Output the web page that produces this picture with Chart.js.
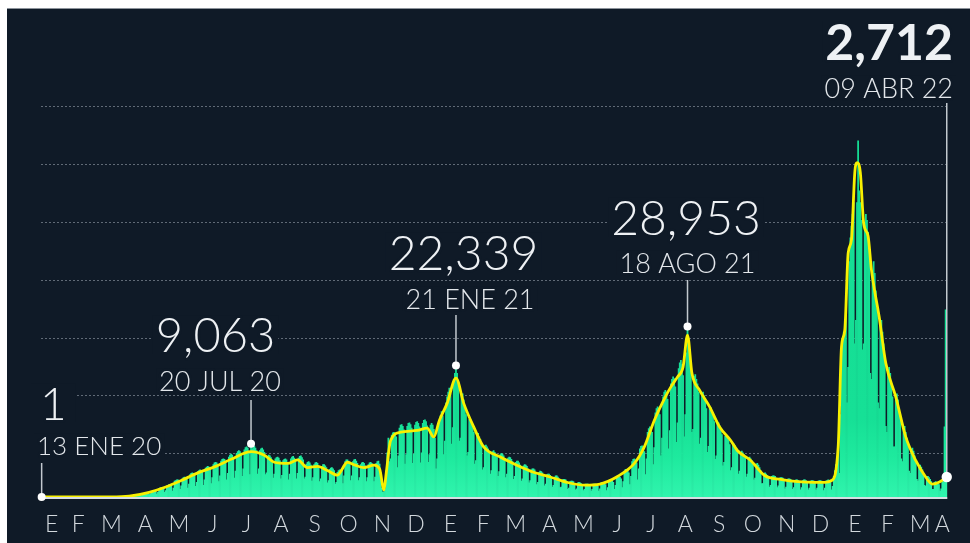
<!DOCTYPE html>
<html>
<head>
<meta charset="utf-8">
<script src="https://cdn.jsdelivr.net/npm/chart.js@4.4.1/dist/chart.umd.min.js"></script>
<style>
  html, body { margin: 0; padding: 0; background: #ffffff; }
  #wrap { position: relative; width: 970px; height: 543px; overflow: hidden; }
  #panel { position: absolute; left: 7px; top: 8px; width: 963px; height: 535px; background: #0f1a27; border-top: 1px solid #8c939b; box-sizing: border-box; }
  #box { position: absolute; left: 0; top: 0; width: 970px; height: 543px; }
</style>
</head>
<body>
<div id="wrap">
  <div id="panel"></div>
  <div id="box"><canvas id="c"></canvas></div>
</div>
<script>
// ---------------- DATA (values in thousands of cases) ----------------
const firstDay = '2020-01-13';
const lastDay = '2022-04-09';

// Daily new cases, one value per day from 13 Jan 2020 to 09 Apr 2022 (Mon..Sun per line)
const dailyCases = [
0.001,0,0,0,0,0,0,
0,0,0,0,0,0,0,
0,0,0,0,0,0,0,
0,0,0,0,0,0,0,
0,0,0,0,0,0,0,
0,0,0,0,0,0,0,
0,0,0,0,0.001,0.001,0,
0.001,0.002,0.001,0.002,0.003,0.004,0.002,
0.005,0.007,0.01,0.012,0.02,0.025,0.02,
0.03,0.04,0.05,0.06,0.07,0.08,0.05,
0.06,0.09,0.1,0.12,0.13,0.14,0.08,
0.1,0.16,0.17,0.18,0.2,0.2,0.12,
0.2,0.35,0.4,0.42,0.45,0.42,0.25,
0.35,0.6,0.68,0.7,0.72,0.7,0.4,
0.55,0.95,1.0,1.05,1.1,1.0,0.5,
0.8,1.45,1.55,1.6,1.6,1.5,0.8,
1.1,1.9,2.0,2.1,2.1,2.0,1.0,
1.5,2.7,2.8,2.9,2.9,2.7,1.3,
1.9,3.1,3.3,3.4,3.3,3.1,1.5,
2.2,3.8,4.0,4.1,4.0,3.8,1.8,
2.5,4.3,4.5,4.6,4.5,4.3,2.0,
2.9,4.9,5.1,5.2,5.1,4.8,2.3,
3.3,5.5,5.8,5.9,5.8,5.4,2.6,
3.6,6.1,6.4,6.5,6.4,6.0,2.9,
4.0,6.8,7.1,7.3,7.1,6.7,3.2,
4.4,7.4,7.7,7.9,7.7,7.2,3.5,
4.8,8.0,8.4,8.5,8.3,7.8,3.8,
9.063,8.2,8.5,8.6,8.3,7.9,3.9,
4.8,7.9,8.2,8.3,8.0,7.6,3.8,
4.1,6.9,7.1,7.0,6.7,6.3,3.2,
3.9,6.5,6.7,6.8,6.6,6.2,3.1,
3.7,6.2,6.4,6.5,6.3,5.9,2.9,
3.9,6.5,6.8,6.9,6.6,6.2,3.1,
4.0,6.6,6.9,7.0,6.7,6.3,3.1,
3.4,5.6,5.9,6.0,5.8,5.4,2.7,
3.3,5.5,5.8,5.9,5.7,5.3,2.6,
3.1,5.2,5.5,5.5,5.3,5.0,2.4,
2.8,4.7,4.9,5.0,4.8,4.5,2.2,
2.5,4.2,4.5,4.6,4.6,4.6,2.3,
3.6,6.0,6.3,6.3,6.1,5.8,2.8,
3.6,6.0,6.3,6.4,6.1,5.7,2.8,
3.3,5.5,5.8,5.9,5.7,5.3,2.6,
3.3,5.5,5.8,5.9,5.7,5.3,2.6,
3.4,5.7,6.0,6.1,5.6,4.2,1.5,
0.8,0.9,1.4,4.5,7.5,10.0,6.0,
6.5,10.5,10.9,11.0,10.8,10.2,5.0,
7.0,11.7,12.2,12.3,12.0,11.4,5.6,
7.2,12.0,12.5,12.6,12.3,11.7,5.7,
7.3,12.2,12.7,12.8,12.5,11.9,5.8,
7.5,12.5,13.0,13.1,12.8,12.1,5.9,
7.2,12.2,12.5,12.2,11.5,10.0,4.8,
6.5,11.8,13.0,13.8,14.5,13.8,7.2,
9.5,16.0,17.0,17.8,18.5,17.5,9.0,
11.8,20.0,21.0,22.339,21.0,19.0,9.5,
10.0,17.5,17.5,16.5,15.5,14.0,7.0,
7.6,13.2,13.2,12.5,12.0,11.0,5.6,
6.2,10.8,10.8,10.2,9.8,9.0,4.6,
5.0,8.7,8.8,8.5,8.2,7.6,3.9,
4.5,7.7,7.9,7.6,7.3,6.8,3.5,
4.3,7.2,7.4,7.3,7.0,6.5,3.3,
3.9,6.6,6.8,6.7,6.4,6.0,3.0,
3.5,5.9,6.1,6.1,5.8,5.4,2.7,
3.1,5.3,5.5,5.4,5.2,4.8,2.4,
2.8,4.6,4.8,4.8,4.6,4.2,2.1,
2.5,4.2,4.4,4.3,4.1,3.8,1.9,
2.2,3.8,3.9,3.9,3.7,3.4,1.7,
2.0,3.4,3.6,3.6,3.4,3.1,1.6,
1.7,2.9,3.0,3.0,2.9,2.6,1.3,
1.5,2.6,2.7,2.7,2.6,2.3,1.2,
1.4,2.4,2.5,2.4,2.3,2.1,1.1,
1.3,2.2,2.2,2.2,2.1,1.9,1.0,
1.3,2.2,2.2,2.2,2.1,1.9,1.0,
1.4,2.4,2.5,2.5,2.4,2.1,1.1,
1.6,2.8,2.9,2.9,2.8,2.5,1.3,
2.0,3.4,3.6,3.6,3.4,3.1,1.6,
2.6,4.4,4.7,4.7,4.5,4.1,2.1,
3.5,6.0,6.4,6.5,6.3,5.8,2.9,
4.8,8.2,8.6,8.7,8.4,7.7,3.8,
6.5,11.0,11.6,11.9,11.8,11.0,5.5,
8.4,14.3,15.0,15.3,15.1,14.0,7.0,
10.0,17.0,17.8,18.1,17.8,16.6,8.2,
11.3,19.2,20.0,20.4,20.1,18.7,9.3,
12.6,21.8,22.8,23.2,22.5,20.6,10.2,
14.0,24.5,28.953,25.5,24.2,22.0,11.0,
11.5,20.5,20.8,20.0,19.2,17.8,9.0,
10.0,17.5,17.8,17.2,16.4,15.0,7.6,
8.6,15.0,15.2,14.6,14.0,12.8,6.4,
7.0,12.5,12.6,12.1,11.5,10.6,5.3,
5.9,10.3,10.5,10.1,9.7,8.9,4.5,
5.0,8.8,9.0,8.7,8.3,7.6,3.9,
4.4,7.6,7.8,7.5,7.2,6.6,3.4,
3.9,6.6,6.8,6.5,6.2,5.7,2.9,
3.2,5.6,5.7,5.4,5.0,4.5,2.3,
2.3,4.0,4.1,3.9,3.7,3.3,1.7,
2.0,3.5,3.6,3.6,3.5,3.2,1.6,
1.9,3.2,3.3,3.3,3.2,2.9,1.4,
1.7,3.0,3.1,3.1,3.0,2.7,1.3,
1.6,2.8,2.9,2.9,2.8,2.5,1.2,
1.6,2.8,2.9,2.9,2.8,2.5,1.2,
1.5,2.7,2.8,2.8,2.7,2.4,1.2,
1.5,2.7,2.8,2.8,2.7,2.3,1.1,
1.5,2.7,2.8,2.9,2.8,2.5,1.2,
1.8,3.5,4.5,5.5,6.5,7.5,4.0,
14.0,22.0,26.0,28.0,30.0,31.0,16.0,
22.0,40.0,44.0,46.0,48.0,50.0,26.0,
30.0,50.0,60.5,52.0,50.0,47.0,25.0,
26.0,46.0,48.0,47.0,45.0,42.0,21.0,
20.0,38.0,40.0,38.0,35.0,32.0,16.0,
15.0,29.0,30.0,28.0,26.0,23.0,12.0,
11.0,21.0,22.0,21.0,19.0,17.0,8.5,
8.5,16.5,17.5,16.5,15.0,13.0,6.5,
6.0,11.5,12.0,11.0,10.0,8.8,4.4,
4.0,8.0,8.3,7.8,7.0,6.2,3.0,
2.7,5.3,5.4,5.1,4.6,4.0,2.0,
1.8,3.5,3.5,3.3,3.0,2.6,1.3,
1.3,2.5,2.6,2.5,2.3,2.1,1.0,
1.4,2.6,2.7,11.9,31.8,2.712
];

// Smoothed trend (yellow line), read at these dates
const lineDates = [
'2020-01-13','2020-03-14','2020-04-01','2020-04-19','2020-05-04','2020-05-18','2020-06-02','2020-06-18','2020-07-02','2020-07-20',
'2020-08-01','2020-08-10','2020-08-22','2020-08-31','2020-09-09','2020-09-18','2020-09-27','2020-10-06','2020-10-15','2020-10-22',
'2020-10-30','2020-11-08','2020-11-13','2020-11-17','2020-11-19','2020-11-23','2020-12-02','2020-12-17','2020-12-26','2021-01-01',
'2021-01-06','2021-01-13','2021-01-21','2021-01-28','2021-02-06','2021-02-15','2021-03-02','2021-03-17','2021-04-01','2021-04-16',
'2021-05-01','2021-05-17','2021-05-31','2021-06-15','2021-07-01','2021-07-10','2021-07-19','2021-07-29','2021-08-03','2021-08-09',
'2021-08-14','2021-08-18','2021-08-22','2021-08-29','2021-09-07','2021-09-16','2021-09-26','2021-10-02','2021-10-14','2021-10-27',
'2021-11-10','2021-11-26','2021-12-11','2021-12-20','2021-12-26','2022-01-01','2022-01-04','2022-01-07','2022-01-10','2022-01-13',
'2022-01-16','2022-01-18','2022-01-21','2022-01-24','2022-01-28','2022-01-31','2022-02-07','2022-02-13','2022-02-22','2022-03-03',
'2022-03-12','2022-03-21','2022-03-27','2022-04-02','2022-04-09'
];
const lineValues = [
0,0.02,0.15,0.8,1.7,2.8,4.1,5.2,6.4,7.7,
7.1,5.9,5.7,6.3,5.0,5.2,4.5,3.7,5.9,5.4,
5.0,5.4,4.8,1.2,4.0,9.6,11.0,11.3,11.7,10.2,
13.0,15.9,20.2,15.9,11.9,8.5,6.8,5.4,4.2,3.4,
2.5,2.0,2.2,3.4,5.7,8.5,13.0,17.0,18.7,20.4,
22.1,27.5,21.0,18.1,15.3,11.9,9.6,7.9,6.2,3.6,
3.0,2.6,2.5,2.5,2.8,8.5,25.5,28.4,41.4,43.7,
55.1,56.8,55.1,46.5,44.3,38.6,30.6,22.7,17.0,10.2,
6.2,3.4,2.2,2.5,3.4
];

// Month tick labels (one per month, Jan 2020 .. Apr 2022)
const monthLetters = ['E','F','M','A','M','J','J','A','S','O','N','D',
                      'E','F','M','A','M','J','J','A','S','O','N','D',
                      'E','F','M','A'];
const monthAbbr = ['ENE','FEB','MAR','ABR','MAY','JUN','JUL','AGO','SEP','OCT','NOV','DIC'];

// Highlighted days
const annotDates = ['2020-01-13','2020-07-20','2021-01-21','2021-08-18','2022-04-09'];

// Hidden y gridline values (thousands)
const gridTicks = [7.4, 17.2, 27.0, 36.85, 46.7, 56.55, 66.4];
const yMax = 66.4;

// ---------------- BUILD ----------------
function buildDates(a, b) {
  const out = [];
  const [y1,m1,d1] = a.split('-').map(Number);
  const [y2,m2,d2] = b.split('-').map(Number);
  let t = Date.UTC(y1, m1-1, d1);
  const end = Date.UTC(y2, m2-1, d2);
  while (t <= end) { out.push(new Date(t).toISOString().slice(0,10)); t += 86400000; }
  return out;
}
const categories = buildDates(firstDay, lastDay);

// centre of each month's span of days
const monthCenters = [];
(function(){
  let cur = null, first = 0;
  categories.forEach((d, i) => {
    const m = d.slice(0,7);
    if (m !== cur) {
      if (cur !== null) monthCenters.push((first + i - 1) / 2);
      cur = m; first = i;
    }
  });
  monthCenters.push((first + categories.length - 1) / 2);
})();

const BG = '#0f1a27';
const FONT = 'Lato, "Open Sans", "Noto Sans", sans-serif';
Chart.defaults.font.family = FONT;

// Text layout for the highlighted days
const annotLayout = [
  { numX: 40,    numAlign: 'left',   numY: 420, numSize: 46, numWeight: 300, dateX: 37,  dateAlign: 'left',   dateY: 455, dateSize: 26, leaderTop: 463, dotR: 4,   padNum: 9 },
  { numX: 215.5, numAlign: 'center', numY: 352, numSize: 47, numWeight: 300, dateX: 220, dateAlign: 'center', dateY: 391, dateSize: 27, leaderTop: 400, dotR: 4,   padNum: 3 },
  { numX: 463.5, numAlign: 'center', numY: 270, numSize: 48, numWeight: 300, dateX: 470, dateAlign: 'center', dateY: 309, dateSize: 27, leaderTop: 315, dotR: 4,   padNum: 3 },
  { numX: 686,   numAlign: 'center', numY: 235, numSize: 48, numWeight: 300, dateX: 687.5, dateAlign: 'center', dateY: 273, dateSize: 27, leaderTop: 280, dotR: 4, padNum: 3 },
  { numX: 953,   numAlign: 'right',  numY: 60,  numSize: 50, numWeight: 700, dateX: 953, dateAlign: 'right',  dateY: 98,  dateSize: 27, leaderTop: 103, dotR: 5.2, padNum: 3 }
];

function drawText(ctx, text, x, y, size, weight, align, color, pad) {
  ctx.font = weight + ' ' + size + 'px ' + FONT;
  ctx.textAlign = align;
  ctx.textBaseline = 'alphabetic';
  const w = ctx.measureText(text).width;
  let x0 = align === 'left' ? x : align === 'right' ? x - w : x - w / 2;
  const cap = size * 0.72;
  ctx.fillStyle = BG;
  ctx.fillRect(x0 - pad, y - cap - 3, w + pad * 2, cap + 5);
  ctx.lineJoin = 'round';
  ctx.strokeStyle = BG;
  ctx.lineWidth = 5;
  ctx.strokeText(text, x, y);
  ctx.fillStyle = color;
  ctx.fillText(text, x, y);
}

const annotPlugin = {
  id: 'annot',
  afterDatasetsDraw(chart) {
    const { ctx, chartArea, scales } = chart;
    const xs = scales.x, ys = scales.y;
    ctx.save();
    // baseline
    ctx.strokeStyle = '#d6dde2';
    ctx.lineWidth = 2;
    ctx.beginPath();
    ctx.moveTo(chartArea.left, chartArea.bottom + 1);
    ctx.lineTo(chartArea.right, chartArea.bottom + 1);
    ctx.stroke();

    annotDates.forEach((ds, k) => {
      const L = annotLayout[k];
      const idx = categories.indexOf(ds);
      const barV = dailyCases[idx];
      const li = lineDates.indexOf(ds);
      const v = li >= 0 ? Math.max(barV, lineValues[li]) : barV;
      const px = xs.getPixelForValue(idx);
      const py = ys.getPixelForValue(v);
      const numText = Math.round(barV * 1000).toLocaleString('en-US');
      const [yy, mm, dd] = ds.split('-');
      const dateText = dd + ' ' + monthAbbr[Number(mm) - 1] + ' ' + yy.slice(2);

      drawText(ctx, numText, L.numX, L.numY, L.numSize, L.numWeight, L.numAlign, '#eef1f4', L.padNum);
      drawText(ctx, dateText, L.dateX, L.dateY, L.dateSize, 300, L.dateAlign, '#e3e7eb', 3);

      ctx.strokeStyle = '#c2c9cf';
      ctx.lineWidth = 1.5;
      ctx.beginPath();
      ctx.moveTo(px, L.leaderTop);
      ctx.lineTo(px, py);
      ctx.stroke();

      ctx.fillStyle = '#ffffff';
      ctx.beginPath();
      ctx.arc(px, py, L.dotR, 0, Math.PI * 2);
      ctx.fill();
    });
    ctx.restore();
  }
};

let barGradient = null;
function barColor(context) {
  const chart = context.chart;
  const { ctx, chartArea } = chart;
  if (!chartArea) return '#16e095';
  if (!barGradient) {
    barGradient = ctx.createLinearGradient(0, chartArea.bottom, 0, chartArea.top);
    barGradient.addColorStop(0, '#30f4ad');
    barGradient.addColorStop(0.1, '#1eea9e');
    barGradient.addColorStop(0.2, '#16e096');
    barGradient.addColorStop(1, '#14dc93');
  }
  return barGradient;
}

new Chart(document.getElementById('c'), {
  type: 'bar',
  data: {
    labels: categories,
    datasets: [
      {
        type: 'line',
        label: 'Tendencia',
        data: lineDates.map((d, i) => ({ x: d, y: lineValues[i] })),
        borderColor: '#f8f000',
        borderWidth: 2.8,
        pointRadius: 0,
        fill: false,
        cubicInterpolationMode: 'monotone',
        order: 1
      },
      {
        type: 'bar',
        label: 'Casos diarios',
        data: dailyCases,
        backgroundColor: barColor,
        borderWidth: 0,
        barPercentage: 1.0,
        categoryPercentage: 1.0,
        order: 2
      }
    ]
  },
  options: {
    responsive: true,
    maintainAspectRatio: false,
    animation: false,
    devicePixelRatio: 1,
    layout: { padding: { left: 41.1, right: 22.7, top: 106, bottom: 0 } },
    plugins: { legend: { display: false }, tooltip: { enabled: false } },
    events: [],
    scales: {
      x: {
        type: 'category',
        offset: true,
        grid: { display: false, drawTicks: false },
        border: { display: false },
        ticks: {
          autoSkip: false,
          maxRotation: 0,
          minRotation: 0,
          padding: 14,
          color: '#d2d8dd',
          font: { family: FONT, size: 23, weight: 300 },
          callback: function (value, index) { return monthLetters[index]; }
        },
        afterBuildTicks: function (scale) {
          scale.ticks = monthCenters.map(v => ({ value: v }));
        },
        afterFit: function (scale) { scale.height = 46; }
      },
      y: {
        min: 0,
        max: yMax,
        grid: { color: 'rgba(150,160,172,0.6)', lineWidth: 1, drawTicks: false },
        border: { display: false, dash: [2, 2] },
        ticks: { display: false },
        afterBuildTicks: function (scale) {
          scale.ticks = gridTicks.map(v => ({ value: v }));
        },
        afterFit: function (scale) { scale.width = 0; }
      }
    }
  },
  plugins: [annotPlugin]
});
</script>
</body>
</html>
